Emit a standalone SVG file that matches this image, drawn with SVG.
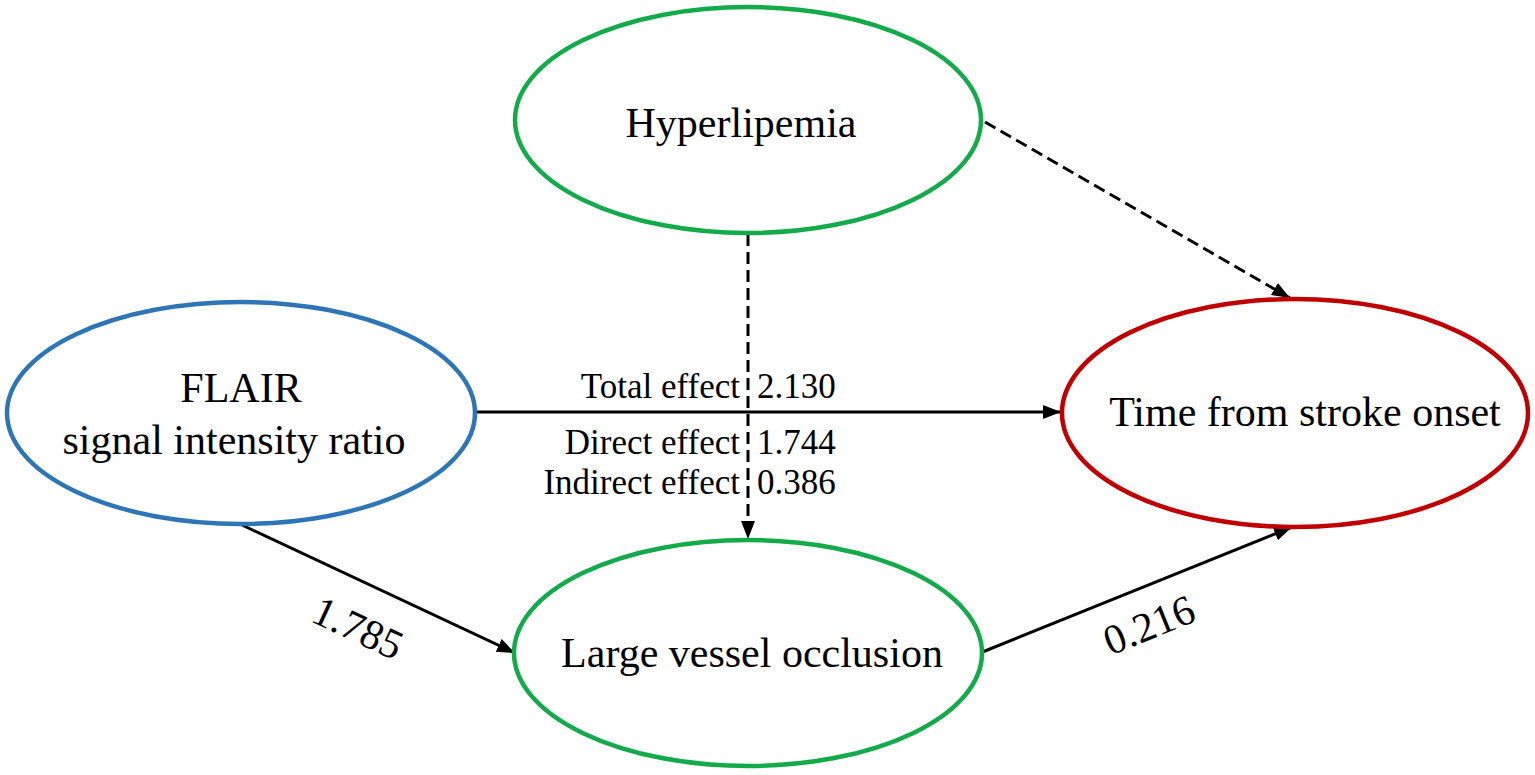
<svg xmlns="http://www.w3.org/2000/svg" width="1535" height="775" viewBox="0 0 1535 775">
<style>
  .node { fill: #ffffff; stroke-width: 4.5; }
  .lbl { font-family: "Liberation Serif", "Times New Roman", serif; font-size: 42px; fill: #000; }
  .eff { font-family: "Liberation Serif", "Times New Roman", serif; font-size: 35px; fill: #000; }
  .edge { stroke: #000; stroke-width: 3; fill: none; }
  .dash { stroke-dasharray: 12 6; }
</style>
<defs>
  <marker id="arr" markerUnits="userSpaceOnUse" markerWidth="20" markerHeight="16" viewBox="0 0 20 16" refX="18" refY="8" orient="auto">
    <path d="M0,1 L18,8 L0,15 Z" fill="#000"/>
  </marker>
</defs>
<rect width="1535" height="775" fill="#ffffff"/>

<g id="connectors">
  <line class="edge" x1="475" y1="412" x2="1061" y2="412" marker-end="url(#arr)"/>
  <line class="edge dash" x1="748" y1="234" x2="748" y2="539" marker-end="url(#arr)"/>
  <line class="edge dash" x1="985" y1="122" x2="1290" y2="298" marker-end="url(#arr)"/>
  <line class="edge" x1="242" y1="525" x2="515" y2="653" marker-end="url(#arr)"/>
  <line class="edge" x1="980" y1="653" x2="1292" y2="527" marker-end="url(#arr)"/>
  <text class="lbl" text-anchor="middle" transform="translate(358,628) rotate(25)" x="0" y="14">1.785</text>
  <text class="lbl" text-anchor="middle" transform="translate(1149,625) rotate(-22)" x="0" y="14">0.216</text>
  <text class="eff" text-anchor="end" x="740" y="398">Total effect</text>
  <text class="eff" x="757" y="398">2.130</text>
  <text class="eff" text-anchor="end" x="740" y="454">Direct effect</text>
  <text class="eff" x="757" y="454">1.744</text>
  <text class="eff" text-anchor="end" x="740" y="494">Indirect effect</text>
  <text class="eff" x="757" y="494">0.386</text>
</g>

<g id="node-hyperlipemia">
  <ellipse class="node" cx="748" cy="120" rx="233" ry="113" stroke="#13AA4A"/>
  <text class="lbl" text-anchor="middle" x="741" y="137">Hyperlipemia</text>
</g>

<g id="node-flair">
  <ellipse class="node" cx="241" cy="413" rx="234" ry="111" stroke="#2E75B6"/>
  <text class="lbl" text-anchor="middle" x="241" y="402">FLAIR</text>
  <text class="lbl" text-anchor="middle" x="234" y="454">signal intensity ratio</text>
</g>

<g id="node-lvo">
  <ellipse class="node" cx="748" cy="653" rx="234" ry="113" stroke="#13AA4A"/>
  <text class="lbl" text-anchor="middle" x="752" y="667">Large vessel occlusion</text>
</g>

<g id="node-time">
  <ellipse class="node" cx="1295" cy="413" rx="233" ry="114" stroke="#C00000"/>
  <text class="lbl" text-anchor="middle" x="1305" y="426">Time from stroke onset</text>
</g>
</svg>
